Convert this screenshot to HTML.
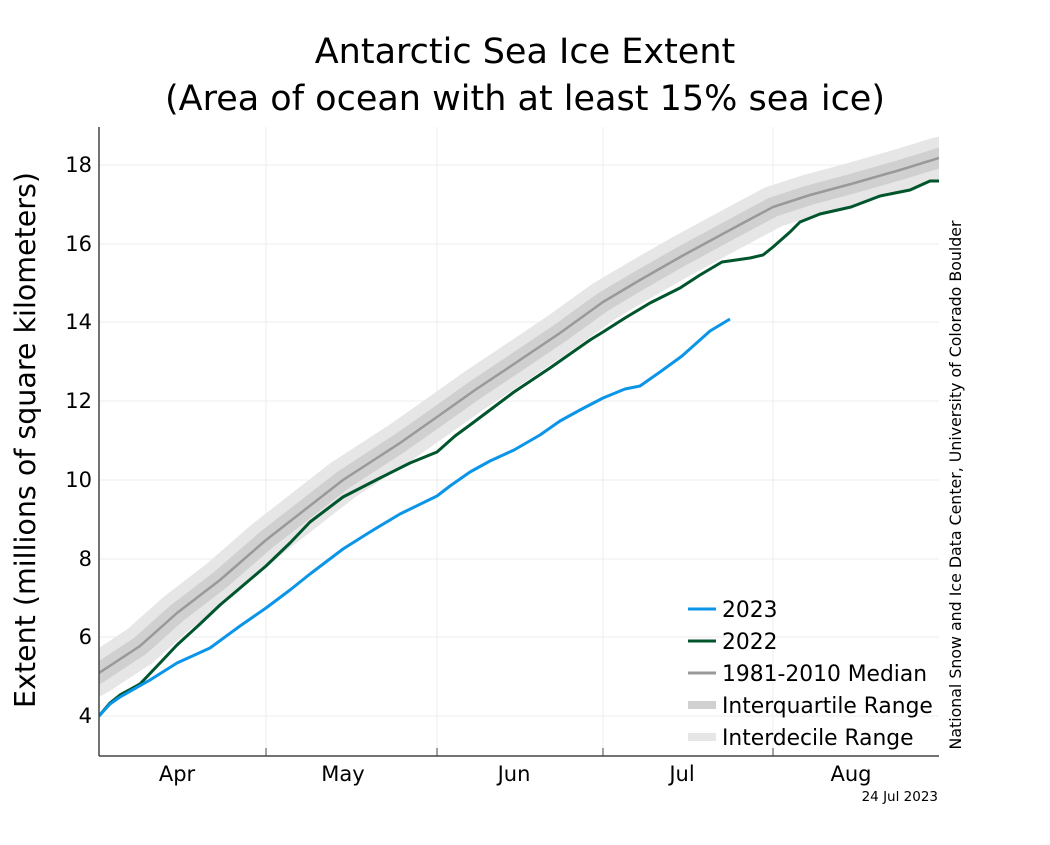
<!DOCTYPE html>
<html><head><style>
body{margin:0;background:#fff;}
svg text{font-family:"DejaVu Sans","Liberation Sans",sans-serif;fill:#000;}
</style></head><body>
<svg width="1050" height="840" xmlns="http://www.w3.org/2000/svg">
<defs><clipPath id="c"><rect x="99" y="127" width="840" height="629"/></clipPath></defs>
<text x="525" y="63" font-size="35" text-anchor="middle">Antarctic Sea Ice Extent</text>
<text x="525" y="110" font-size="35" text-anchor="middle">(Area of ocean with at least 15% sea ice)</text>
<g stroke="#ececec" stroke-width="1">
<line x1="99" x2="939" y1="716" y2="716"/><line x1="99" x2="939" y1="637" y2="637"/>
<line x1="99" x2="939" y1="559" y2="559"/><line x1="99" x2="939" y1="480" y2="480"/>
<line x1="99" x2="939" y1="401" y2="401"/><line x1="99" x2="939" y1="322" y2="322"/>
<line x1="99" x2="939" y1="244" y2="244"/><line x1="99" x2="939" y1="165" y2="165"/>
<line x1="266" x2="266" y1="127" y2="756"/><line x1="437" x2="437" y1="127" y2="756"/>
<line x1="603" x2="603" y1="127" y2="756"/><line x1="773" x2="773" y1="127" y2="756"/>
</g>
<g clip-path="url(#c)" fill="none" stroke-linejoin="round">
<polyline stroke="#e6e6e6" stroke-width="42" points="90,678 99,673 140,646 177,613 220,580 266,540 343,480 400,443 437,417 475,390 514,364 560,333 603,302 640,280 682,256 730,230 773,207 810,195 851,184 900,170 939,158 950,156"/>
<polyline stroke="#d0d0d0" stroke-width="20" points="90,678 99,673 140,646 177,613 220,580 266,540 343,480 400,443 437,417 475,390 514,364 560,333 603,302 640,280 682,256 730,230 773,207 810,195 851,184 900,170 939,158 950,156"/>
<polyline stroke="#999" stroke-width="2.5" points="99,673 140,646 177,613 220,580 266,540 343,480 400,443 437,417 475,390 514,364 560,333 603,302 640,280 682,256 730,230 773,207 810,195 851,184 900,170 939,158"/>
<polyline stroke="#00552d" stroke-width="3" points="99,716 110,703 120,695 140,684 160,663 177,645 200,624 220,605 266,566 290,543 310,522 343,497 380,478 410,463 437,452 455,436 470,425 490,410 514,392 550,368 570,354 590,340 603,332 625,318 650,303 680,288 700,275 722,262 750,258 763,255 773,247 790,232 800,222 820,214 851,207 880,196 910,190 930,181 939,181"/>
<polyline stroke="#0b95e8" stroke-width="3" points="99,716 110,704 120,697 150,680 177,663 210,648 240,626 266,608 290,590 310,574 343,549 370,532 400,514 437,496 450,486 470,472 490,461 514,450 540,435 560,421 580,410 603,398 625,389 640,386 660,372 682,356 710,331 730,319"/>
</g>
<line x1="99" y1="127" x2="99" y2="756" stroke="#444" stroke-width="1.5"/>
<line x1="99" y1="756" x2="939" y2="756" stroke="#444" stroke-width="1.5"/>
<g stroke="#444"><line x1="266" x2="266" y1="748" y2="756"/><line x1="437" x2="437" y1="748" y2="756"/><line x1="603" x2="603" y1="748" y2="756"/><line x1="773" x2="773" y1="748" y2="756"/></g>
<g font-size="21" text-anchor="end">
<text x="92" y="723">4</text><text x="92" y="644">6</text><text x="92" y="566">8</text><text x="92" y="487">10</text>
<text x="92" y="408">12</text><text x="92" y="329">14</text><text x="92" y="251">16</text><text x="92" y="172">18</text>
</g>
<g font-size="21" text-anchor="middle">
<text x="177" y="781">Apr</text><text x="343" y="781">May</text><text x="514" y="781">Jun</text><text x="682" y="781">Jul</text><text x="851" y="781">Aug</text>
</g>
<text transform="translate(35,440) rotate(-90)" font-size="28.5" text-anchor="middle">Extent (millions of square kilometers)</text>
<text transform="translate(961,485) rotate(-90)" font-size="15.8" text-anchor="middle">National Snow and Ice Data Center, University of Colorado Boulder</text>
<text x="938" y="801" font-size="13.5" text-anchor="end">24 Jul 2023</text>
<g font-size="21.8">
<line x1="688" x2="716" y1="609" y2="609" stroke="#0b95e8" stroke-width="3"/><text x="722" y="617">2023</text>
<line x1="688" x2="716" y1="641" y2="641" stroke="#00552d" stroke-width="3"/><text x="722" y="649">2022</text>
<line x1="688" x2="716" y1="673" y2="673" stroke="#999" stroke-width="3"/><text x="722" y="681">1981-2010 Median</text>
<line x1="688" x2="716" y1="705" y2="705" stroke="#d0d0d0" stroke-width="8"/><text x="722" y="713">Interquartile Range</text>
<line x1="688" x2="716" y1="737" y2="737" stroke="#e6e6e6" stroke-width="8"/><text x="722" y="745">Interdecile Range</text>
</g>
</svg>
</body></html>
